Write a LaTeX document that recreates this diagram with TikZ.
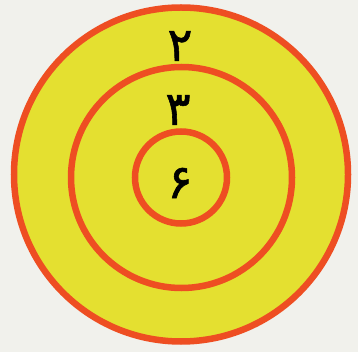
\documentclass[tikz,border=0pt]{standalone}
\usepackage{fontspec}
\newfontfamily\arabicfont[Script=Arabic, FakeBold=1.2]{DejaVu Sans}
\TeXXeTstate=1
\definecolor{bg}{HTML}{F1F1EC}
\definecolor{ring}{HTML}{EE4E22}
\definecolor{fillY}{HTML}{E4E030}
\tikzset{
  ringline/.style={draw=ring, line width=6.5pt, fill=fillY},
  digit/.style={font=\arabicfont\fontsize{47}{50}\selectfont, text=black, inner sep=0pt}
}
\begin{document}
\begin{tikzpicture}[x=1pt,y=-1pt]
\fill[bg] (0,0) rectangle (358,352);
\useasboundingbox (0,0) rectangle (358,352);
\path[ringline] (181,174.5) circle[radius=167];
\path[ringline] (181.5,177.5) circle[radius=110.5];
\path[ringline] (181,177.5) circle[radius=46];
\node[digit] (d2) at (180,46) {\beginR ۲\endR};
\node[digit] (d3) at (178,110) {\beginR ۳\endR};
\node[digit] (d6) at (180,183) {\beginR ۶\endR};
\end{tikzpicture}
\end{document}
